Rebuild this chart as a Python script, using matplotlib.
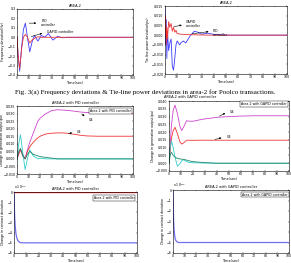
import numpy as np
import matplotlib
matplotlib.use("Agg")
import matplotlib.pyplot as plt

plt.rcParams["font.family"] = "DejaVu Sans"
plt.rcParams["font.size"] = 2.5
plt.rcParams["axes.linewidth"] = 0.4
plt.rcParams["lines.linewidth"] = 0.6

W, H = 291, 263

# --- data ---
# fig (a) left: frequency deviation, area-2
f_t = [0, 1, 2.3, 4, 5.5, 7.2, 9, 11, 13, 15, 18, 21, 24, 27, 31, 35, 39, 43, 50, 100]
f_pid = [0, -0.2, -0.36, -0.1, 0.08, 0.15, 0.0, -0.155, -0.05, 0.02, -0.04, 0.02, 0.0, 0.04, -0.03, 0.01, -0.005, 0.0, 0.0, 0.0]
f_ga = [0, -0.2, -0.33, -0.12, 0.0, 0.03, 0.0, -0.06, -0.03, -0.01, 0.005, 0.0, 0.0, 0.0, 0.0, 0.0, 0.0, 0.0, 0.0, 0.0]

# fig (a) right: tie-line power deviation
p_t = [0, 0.5, 1, 1.5, 2, 3, 4, 5, 6, 7, 8, 9, 10, 12, 13, 15, 17, 19, 21, 24, 27, 30, 35, 40, 50, 100]
p_pid = [0.0145, -0.005, 0.008, -0.012, 0.002, -0.008, -0.004, -0.002, -0.016, -0.018, -0.012, -0.005, -0.003, -0.005, -0.004, -0.003, -0.004, -0.002, 0.0, 0.002, 0.0015, 0.0005, 0.001, 0.0004, 0.0, 0.0]
p_ga = [0.0, 0.01, -0.005, 0.004, -0.002, 0.007, 0.004, 0.006, 0.002, 0.004, 0.0015, 0.0025, 0.0008, 0.0006, 0.0005, 0.0004, 0.0003, 0.0003, 0.0002, 0.0002, 0.0001, 0.0001, 0.0, 0.0, 0.0, 0.0]

# generation outputs with PID
g_t = [0, 1.5, 3, 5, 7, 9, 11, 14, 18, 20, 25, 30, 35, 40, 45, 50, 55, 60, 70, 80, 90, 100]
g4_pid = [0, 0.004, 0.006, 0.003, 0.0, 0.006, 0.011, 0.017, 0.025, 0.027, 0.030, 0.032, 0.0325, 0.0323, 0.032, 0.0315, 0.031, 0.0307, 0.0304, 0.0302, 0.0301, 0.030]
g3_pid = [0, 0.003, 0.006, 0.002, 0.0, 0.005, 0.008, 0.011, 0.014, 0.015, 0.0165, 0.017, 0.0172, 0.0172, 0.0168, 0.0162, 0.0156, 0.0152, 0.015, 0.015, 0.015, 0.015]
g2_pid = [0, 0.01, 0.016, 0.004, -0.007, 0.0, 0.006, 0.002, 0.0, 0.0005, 0.0, 0.0, 0.0, 0.0, 0.0, 0.0, 0.0, 0.0, 0.0, 0.0, 0.0, 0.0]
g1_pid = [0, 0.005, 0.007, 0.002, 0.0, 0.003, 0.005, 0.003, 0.002, 0.0015, 0.001, 0.0005, 0.0, 0.0, 0.0, 0.0, 0.0, 0.0, 0.0, 0.0, 0.0, 0.0]

# generation outputs with GAPID
h_t = [0, 1, 2, 3.5, 5, 7, 9, 10.5, 12, 14.7, 17, 20, 25, 30, 40, 50, 60, 70, 80, 90, 100]
g4_ga = [0, 0.012, 0.024, 0.034, 0.0373, 0.032, 0.024, 0.021, 0.023, 0.0273, 0.027, 0.027, 0.0278, 0.0285, 0.0295, 0.030, 0.0303, 0.0305, 0.0305, 0.0305, 0.0305]
g3_ga = [0, 0.008, 0.016, 0.021, 0.0231, 0.019, 0.014, 0.0123, 0.013, 0.0148, 0.0148, 0.0147, 0.0148, 0.0148, 0.0148, 0.0148, 0.0148, 0.0148, 0.0148, 0.0148, 0.0148]
g2_ga = [0, 0.01, 0.0144, 0.01, 0.004, -0.0019, -0.0005, 0.0015, 0.0023, 0.001, 0.0005, 0.0003, 0.0002, 0.0001, 0.0, 0.0, 0.0, 0.0, 0.0, 0.0, 0.0]
g1_ga = [0, 0.005, 0.007, 0.005, 0.004, 0.003, 0.0028, 0.0026, 0.0025, 0.002, 0.0015, 0.001, 0.0007, 0.0004, 0.0, 0.0, 0.0, 0.0, 0.0, 0.0, 0.0]

# contract deviation (x 10^-3)
c_t = [0, 0.3, 0.6, 1, 1.5, 2, 3, 4, 5, 7, 10, 100]
c_pid = [0, -1.5, -2.6, -3.4, -4.0, -4.4, -4.75, -4.9, -4.97, -5.0, -5.0, -5.0]
c_ref = [0, 0, 0, 0, 0, 0, 0, 0, 0, 0, 0, 0]
c_ga = [0, -2.0, -3.2, -3.9, -4.4, -4.7, -4.9, -4.97, -5.0, -5.0, -5.0, -5.0]

BLUE = "#3a3aff"
LBLUE = "#7070f0"
RED = "#ee3333"
MAG = "#cc44cc"
CYAN = "#33cccc"
GREEN = "#1f8a6a"

fig = plt.figure(figsize=(W / 100, H / 100), dpi=100)


def box(l, t, r, b):
    ax = fig.add_axes([l / W, 1 - b / H, (r - l) / W, (b - t) / H])
    ax.tick_params(direction="in", length=1, width=0.3, pad=1,
                   top=True, right=True, labelsize=2.3)
    ax.set_xlim(0, 100)
    ax.set_xticks(np.arange(0, 101, 10))
    ax.set_xlabel("Time(sec)", fontsize=2.5, labelpad=0.3)
    return ax


def ylab(ax, txt, x):
    ax.set_ylabel(txt, fontsize=2.3)
    ax.yaxis.set_label_coords(x, 0.5)


def arrow(ax, txt, start, end, tpos):
    ax.annotate("", xy=end, xytext=start,
                arrowprops=dict(arrowstyle="-|>", lw=0.4, color="k",
                                mutation_scale=2.5))
    ax.text(tpos[0], tpos[1], txt, fontsize=2.3, va="center")


# frequency deviation
ax1 = box(17, 9, 133, 75)
ax1.plot(f_t, f_pid, color=BLUE)
ax1.plot(f_t, f_ga, color=RED)
ax1.set_ylim(-0.4, 0.3)
ax1.set_yticks(np.arange(-0.4, 0.31, 0.1))
ax1.set_title("AREA-2", fontsize=2.5, pad=1.5)
ylab(ax1, "Frequency deviation(Hz)", -0.1)
arrow(ax1, "PID\ncontroller", (8, 0.15), (19, 0.15), (21, 0.15))
arrow(ax1, "GAPID controller", (10, 0.0), (24, 0.05), (26, 0.06))

# tie-line power deviation
ax2 = box(165, 6, 287, 74)
ax2.plot(p_t, p_pid, color=BLUE)
ax2.plot(p_t, p_ga, color=RED)
ax2.set_ylim(-0.02, 0.015)
ax2.set_yticks(np.arange(-0.02, 0.0151, 0.005))
ax2.set_title("AREA-2", fontsize=2.5, pad=1.5)
ylab(ax2, "Tie-line power deviation(pu)", -0.12)
arrow(ax2, "GAPID\ncontroller", (5, 0.004), (16, 0.0055), (17, 0.0058))
arrow(ax2, "PID\ncontroller", (20, 0.0005), (38, 0.002), (39, 0.001))

fig.text(0.5, 1 - 92 / H, "Fig. 3(a) Frequency deviations & Tie-line power deviations in area-2 for Poolco transactions.",
         ha="center", va="center", fontsize=5, family="Liberation Serif")

# generation, PID
ax3 = box(17, 106, 133, 174)
ax3.plot(g_t, g4_pid, color=MAG)
ax3.plot(g_t, g3_pid, color=RED)
ax3.plot(g_t, g2_pid, color=CYAN)
ax3.plot(g_t, g1_pid, color=GREEN)
ax3.set_ylim(-0.01, 0.035)
ax3.set_yticks(np.arange(-0.01, 0.0351, 0.005))
ax3.set_title("AREA-2 with PID controller", fontsize=2.5, pad=1.5)
ylab(ax3, "Change in generation output(pu)", -0.115)
ax3.text(0.98, 0.96, "Area-2 with PID controller", transform=ax3.transAxes,
         ha="right", va="top", fontsize=2.3,
         bbox=dict(boxstyle="square,pad=0.3", fc="w", ec="k", lw=0.3))
arrow(ax3, "G4", (54, 0.031), (60, 0.027), (62, 0.026))
arrow(ax3, "G3", (42, 0.0165), (50, 0.0175), (52, 0.0175))

# generation, GAPID
ax4 = box(169, 101, 289, 171)
ax4.plot(h_t, g4_ga, color=MAG)
ax4.plot(h_t, g3_ga, color=RED)
ax4.plot(h_t, g2_ga, color=CYAN)
ax4.plot(h_t, g1_ga, color=GREEN)
ax4.set_ylim(-0.005, 0.04)
ax4.set_yticks(np.arange(-0.005, 0.0401, 0.005))
fig.text(190 / W, 1 - 97.5 / H, "AREA-2 with GAPID controller", fontsize=2.5,
         ha="center", va="center")
ylab(ax4, "Change in generation output(pu)", -0.12)
ax4.text(0.98, 0.99, "Area-2 with GAPID controller", transform=ax4.transAxes,
         ha="right", va="top", fontsize=2.3,
         bbox=dict(boxstyle="square,pad=0.3", fc="w", ec="k", lw=0.3))
arrow(ax4, "G4", (40, 0.0295), (49, 0.033), (51, 0.033))
arrow(ax4, "G3", (36, 0.0148), (46, 0.0168), (48, 0.0168))

# contract deviation, PID
ax5 = box(14, 192, 137, 253)
ax5.plot(c_t, c_ref, color=RED, lw=1.0)
ax5.plot(c_t, c_pid, color=LBLUE, lw=0.9)
ax5.set_ylim(-6, 0)
ax5.set_yticks(np.arange(-6, 0.1, 1))
ax5.set_title("AREA-2 with PID controller", fontsize=2.5, pad=1.5)
ylab(ax5, "Change in contract deviation", -0.07)
ax5.text(0, 1.01, r"x 10$^{-3}$", transform=ax5.transAxes, fontsize=2.3, va="bottom")
ax5.text(0.98, 0.93, "Area-2 with PID controller", transform=ax5.transAxes,
         ha="right", va="top", fontsize=2.3,
         bbox=dict(boxstyle="square,pad=0.3", fc="w", ec="k", lw=0.3))

# contract deviation, GAPID
ax6 = box(173, 190, 289, 253)
ax6.plot(c_t, c_ga, color=LBLUE, lw=0.9)
ax6.set_ylim(-6, 0)
ax6.set_yticks(np.arange(-6, 0.1, 1))
ax6.set_title("AREA-2 with GAPID controller", fontsize=2.5, pad=1.5)
ylab(ax6, "Change in contract deviation", -0.07)
ax6.text(0, 1.01, r"x 10$^{-3}$", transform=ax6.transAxes, fontsize=2.3, va="bottom")
ax6.text(0.99, 0.96, "Area-2 with GAPID controller", transform=ax6.transAxes,
         ha="right", va="top", fontsize=2.3,
         bbox=dict(boxstyle="square,pad=0.3", fc="w", ec="k", lw=0.3))

fig.savefig("out.png", dpi=100)
